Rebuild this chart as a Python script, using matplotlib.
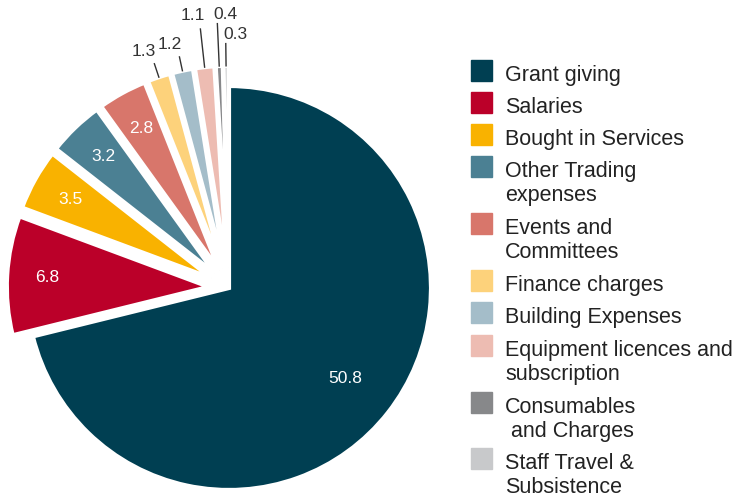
import numpy as np
import matplotlib.pyplot as plt
from matplotlib.patches import Rectangle

plt.rcParams['font.family'] = ['Liberation Sans', 'DejaVu Sans']

categories = ["Grant giving", "Salaries", "Bought in Services",
              "Other Trading\nexpenses", "Events and\nCommittees",
              "Finance charges", "Building Expenses",
              "Equipment licences and\nsubscription",
              "Consumables\n and Charges", "Staff Travel &\nSubsistence"]
values = [50.8, 6.8, 3.5, 3.2, 2.8, 1.3, 1.2, 1.1, 0.4, 0.3]
colors = ["#003f52", "#bb0029", "#f9b200", "#4b8093", "#d8766b",
          "#fdd27b", "#a4bdc9", "#edbcb2", "#87888a", "#c8c9cb"]

# outside labels for the thin slices: radius of leader end, text offset
outside_end = {5: 1.17, 6: 1.17, 7: 1.29, 8: 1.31, 9: 1.21}
outside_off = {5: (-0.055, 0.06), 6: (-0.05, 0.06), 7: (-0.04, 0.065),
               8: (0.04, 0.045), 9: (0.05, 0.045)}

fig = plt.figure(figsize=(7.39, 4.97), dpi=100)
ax = fig.add_axes([0, 0, 1, 1])
R = 202.0
xlim = (-229 / R, (739 - 229) / R)
ylim = (-(497 - 288) / R, 288 / R)

explode = [0] + [0.1] * (len(values) - 1)
wedges, _ = ax.pie(values, colors=colors, startangle=90, counterclock=False,
                   explode=explode, radius=1,
                   wedgeprops=dict(edgecolor='white', linewidth=3))
ax.set_xlim(*xlim)
ax.set_ylim(*ylim)
ax.set_aspect('auto')
ax.axis('off')

for i, w in enumerate(wedges):
    a = np.deg2rad((w.theta1 + w.theta2) / 2)
    cx, cy = w.center
    txt = f"{values[i]:.1f}"
    if i < 5:
        r = 0.73 if i == 0 else 0.8
        ax.text(cx + r * np.cos(a), cy + r * np.sin(a), txt, color='white',
                fontsize=12.5, ha='center', va='center')
    else:
        x0, y0 = cx + 1.0 * np.cos(a), cy + 1.0 * np.sin(a)
        re = outside_end[i]
        x1, y1 = re * np.cos(a), re * np.sin(a)
        ax.plot([x0, x1], [y0, y1], color='#333333', lw=1)
        dx, dy = outside_off[i]
        ax.text(x1 + dx, y1 + dy, txt, color='#333333', fontsize=12.5,
                ha='center', va='center')

# legend, one text per line so the baselines sit where they should
W, H = 739.0, 497.0
box_tops = [60, 92, 124, 156, 213, 270, 302, 335, 392, 448]
for top, lab, col in zip(box_tops, categories, colors):
    fig.patches.append(Rectangle((471 / W, 1 - (top + 21) / H), 21 / W, 21 / H,
                                 transform=fig.transFigure, color=col))
    for k, line in enumerate(lab.split("\n")):
        fig.text(505 / W, 1 - (top + 21 + 24 * k) / H, line, fontsize=15.5,
                 color='#222222', ha='left', va='baseline')

fig.savefig("out.png", dpi=100)
